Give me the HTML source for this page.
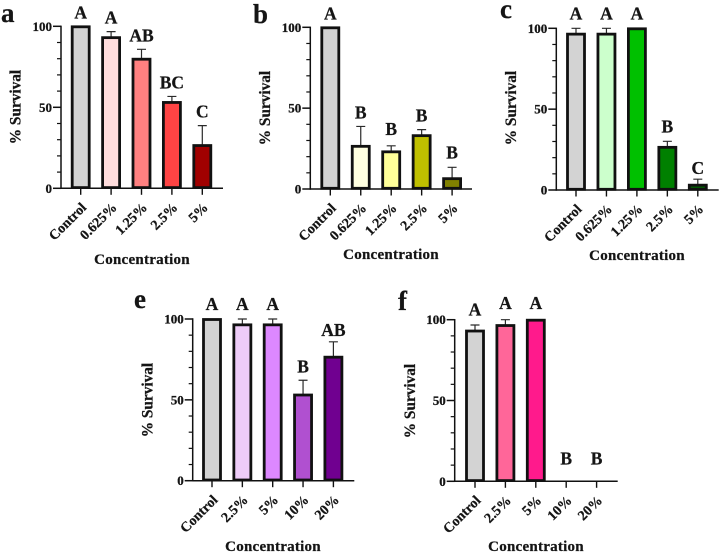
<!DOCTYPE html>
<html lang="en">
<head>
<meta charset="utf-8">
<title>Survival by concentration</title>
<style>
html,body{margin:0;padding:0;background:#fff;}
svg{display:block;}
text{font-family:"Liberation Serif",serif;font-weight:bold;fill:#151515;stroke:#151515;stroke-width:0.25px;}
</style>
</head>
<body>
<svg id="figure" width="720" height="553" viewBox="0 0 720 553" xmlns="http://www.w3.org/2000/svg"></svg>
<script>
const yTicks = [0, 50, 100];
const yMinorTicks = [10, 20, 30, 40, 60, 70, 80, 90];
const gray = '#d3d3d3';

const aCategories = ['Control', '0.625%', '1.25%', '2.5%', '5%'];
const aValues = [100, 93.3, 80, 53.3, 26.7];
const aErrors = [0, 3.4, 5.8, 3.4, 12];
const aLetters = ['A', 'A', 'AB', 'BC', 'C'];
const aColors = [gray, '#ffdddd', '#ff8080', '#ff4444', '#a00000'];

const bCategories = ['Control', '0.625%', '1.25%', '2.5%', '5%'];
const bValues = [100, 26.7, 23.3, 33.3, 6.7];
const bErrors = [0, 12, 3.4, 3.4, 6.7];
const bLetters = ['A', 'B', 'B', 'B', 'B'];
const bColors = [gray, '#ffffe0', '#ffff99', '#c0c000', '#808000'];

const cCategories = ['Control', '0.625%', '1.25%', '2.5%', '5%'];
const cValues = [96.7, 96.7, 100, 26.7, 3.3];
const cErrors = [3.3, 3.3, 0, 3.4, 3.4];
const cLetters = ['A', 'A', 'A', 'B', 'C'];
const cColors = [gray, '#ccffcc', '#00c000', '#008000', '#006000'];

const eCategories = ['Control', '2.5%', '5%', '10%', '20%'];
const eValues = [100, 96.7, 96.7, 53.3, 76.7];
const eErrors = [0, 3.3, 3.3, 8.8, 9.2];
const eLetters = ['A', 'A', 'A', 'B', 'AB'];
const eColors = [gray, '#eeccf8', '#dd88ff', '#b050d0', '#700090'];

const fCategories = ['Control', '2.5%', '5%', '10%', '20%'];
const fValues = [93.3, 96.7, 100, 0, 0];
const fErrors = [3.4, 3.3, 0, 0, 0];
const fLetters = ['A', 'A', 'A', 'B', 'B'];
const fColors = [gray, '#ff6699', '#ff1a8c', '#ffffff', '#ffffff'];

const panels = [
  {id:'a', cats:aCategories, vals:aValues, errs:aErrors, lets:aLetters, cols:aColors,
   ax:61, y0:188.3, y100:26.3, first:80.7, step:30.4, right:223, nudge:{},
   tagX:1, tagY:22, titleX:142, titleY:264, yTitleX:20.5, yTitleY:107},
  {id:'b', cats:bCategories, vals:bValues, errs:bErrors, lets:bLetters, cols:bColors,
   ax:310.3, y0:189, y100:27.3, first:330.3, step:30.45, right:472, nudge:{2:3, 4:1},
   tagX:253, tagY:23, titleX:391, titleY:259, yTitleX:270, yTitleY:108},
  {id:'c', cats:cCategories, vals:cValues, errs:cErrors, lets:cLetters, cols:cColors,
   ax:556.3, y0:190, y100:28.3, first:576, step:30.45, right:718.7, nudge:{0:1, 1:1, 2:1, 3:1, 4:-3},
   tagX:500, tagY:18, titleX:637, titleY:260, yTitleX:516, yTitleY:108},
  {id:'e', cats:eCategories, vals:eValues, errs:eErrors, lets:eLetters, cols:eColors,
   ax:192.7, y0:480.7, y100:319, first:212, step:30.35, right:354.3, nudge:{0:1, 1:1, 2:1, 4:-2},
   tagX:134, tagY:308, titleX:273, titleY:551, yTitleX:152.7, yTitleY:400},
  {id:'f', cats:fCategories, vals:fValues, errs:fErrors, lets:fLetters, cols:fColors,
   ax:454.7, y0:481.3, y100:319.7, first:475, step:30.4, right:617.7, nudge:{0:1.5, 1:2.5, 2:2.5},
   tagX:398, tagY:310, titleX:536, titleY:551, yTitleX:415, yTitleY:401}
];

const NS = 'http://www.w3.org/2000/svg';
const svg = document.getElementById('figure');

function mk(parent, tag, props, txt) {
  const el = document.createElementNS(NS, tag);
  for (const k in props) el.setAttribute(k, props[k]);
  if (txt !== undefined) el.textContent = txt;
  parent.appendChild(el);
  return el;
}

panels.forEach(function (p) {
  const y = function (v) { return p.y0 - (v / 100) * (p.y0 - p.y100); };
  const x = function (i) { return p.first + i * p.step; };

  const g = mk(svg, 'g', {});
  
  

  const tag = mk(g, 'text', {x: p.tagX, y: p.tagY, 'font-size': 27}, p.id);
  
  

  p.vals.forEach(function (v, i) {
    const top = v + p.errs[i];
    if (p.errs[i] > 0) {
      const err = mk(g, 'path', {
        d: 'M' + x(i) + ' ' + y(v) + 'V' + y(top) + 'M' + (x(i) - 4.5) + ' ' + y(top) + 'H' + (x(i) + 4.5),
        fill: 'none', stroke: '#2a2a2a', 'stroke-width': 1.2
      });
      
      
    }
    if (v > 0) {
      const bar = mk(g, 'rect', {
        x: x(i) - 8.5, y: y(v) + 0.5, width: 17, height: Math.max(0, p.y0 - y(v) - 1.2),
        fill: p.cols[i], stroke: '#111', 'stroke-width': 2.8
      });
      
      
    }
    const nudge = p.nudge[i] || 0;
    const letter = mk(g, 'text', {
      x: x(i), y: y(top) - (v === 0 ? 17 : 8) - nudge, 'font-size': 17.5, 'text-anchor': 'middle'
    }, p.lets[i]);
    
    

    const tick = mk(g, 'line', {
      x1: x(i), x2: x(i), y1: p.y0, y2: p.y0 + 6.5, stroke: '#111', 'stroke-width': 1.4
    });
    
    

    const lx = x(i) + 6.5;
    const ly = p.y0 + 20;
    const label = mk(g, 'text', {
      x: lx, y: ly, 'font-size': 14, 'text-anchor': 'end',
      transform: 'rotate(-45 ' + lx + ' ' + ly + ')'
    }, p.cats[i]);
    
    
  });

  yMinorTicks.forEach(function (t) {
    const minor = mk(g, 'line', {
      x1: p.ax - 4, x2: p.ax, y1: y(t), y2: y(t), stroke: '#111', 'stroke-width': 1.2
    });
    
    
  });

  yTicks.forEach(function (t) {
    const major = mk(g, 'line', {
      x1: p.ax - 8, x2: p.ax, y1: y(t), y2: y(t), stroke: '#111', 'stroke-width': 1.5
    });
    
    
    const lab = mk(g, 'text', {
      x: p.ax - 9, y: y(t) + 4.5, 'font-size': 13, 'text-anchor': 'end'
    }, String(t));
    
    
  });

  const yAxis = mk(g, 'line', {
    x1: p.ax, x2: p.ax, y1: p.y100 - 0.7, y2: p.y0 + 0.7, stroke: '#111', 'stroke-width': 1.5
  });
  
  

  const xAxis = mk(g, 'line', {
    x1: p.ax, x2: p.right, y1: p.y0, y2: p.y0, stroke: '#111', 'stroke-width': 1.5
  });
  
  

  const xTitle = mk(g, 'text', {
    x: p.titleX, y: p.titleY, 'font-size': 15, 'text-anchor': 'middle', 'letter-spacing': 0.25
  }, 'Concentration');
  
  

  const yTitle = mk(g, 'text', {
    x: p.yTitleX, y: p.yTitleY, 'font-size': 15.3, 'text-anchor': 'middle',
    transform: 'rotate(-90 ' + p.yTitleX + ' ' + p.yTitleY + ')'
  }, '% Survival');
  
  
});
</script>
</body>
</html>
